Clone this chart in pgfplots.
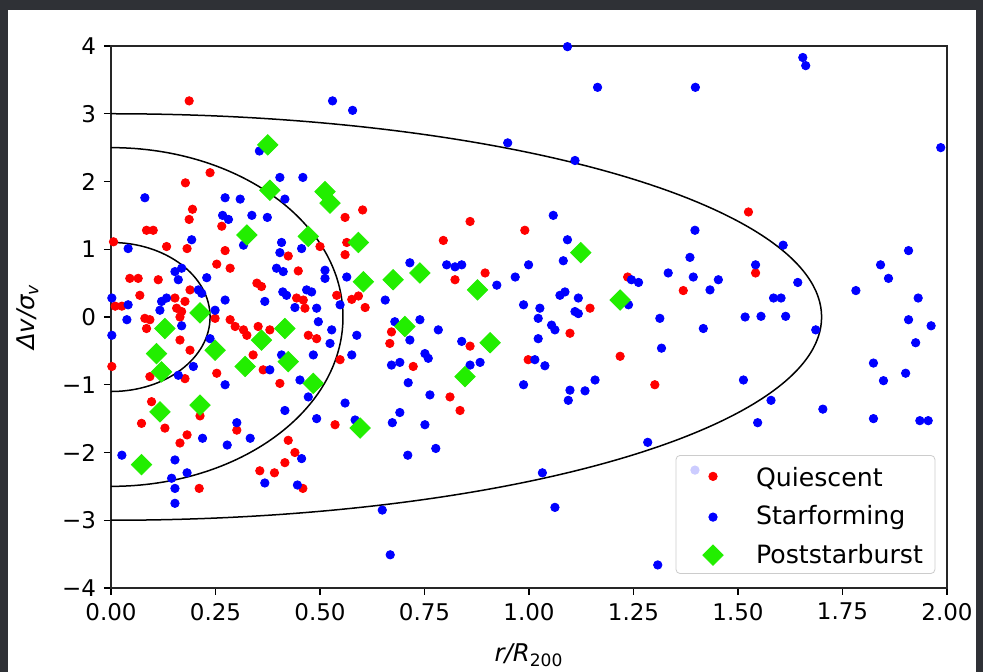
\documentclass[border=0pt]{standalone}
\usepackage{fontspec}
\setmainfont{DejaVu Sans}
\usepackage{pgfplots}
\pgfplotsset{compat=1.18}
\definecolor{framec}{HTML}{2F3136}
\definecolor{qred}{HTML}{FF0000}
\definecolor{sblue}{HTML}{0000FF}
\definecolor{pgreen}{HTML}{22EE00}
\definecolor{legedge}{HTML}{CCCCCC}
\pgfplotsset{
  ptstyle/.style={only marks,
    legend image code/.code={\path[draw=none,fill=none] (0pt,-1pt) rectangle (34pt,1pt);
      \draw[##1,fill opacity=1,draw opacity=1,overlay] plot coordinates {(14.5pt,0pt)};}},
}
\begin{document}
\fontsize{11.5}{13.5}\selectfont
\begin{tikzpicture}
\path[use as bounding box] (-55.5pt,-42pt) rectangle (436pt,294pt);
\fill[framec] (-55.5pt,-42pt) rectangle (436pt,294pt);
\fill[white] (-51.5pt,-42pt) rectangle (432.5pt,289pt);
\begin{axis}[
  at={(0pt,0pt)}, anchor=south west,
  scale only axis, width=418pt, height=271pt,
  xmin=0, xmax=2, ymin=-4, ymax=4,
  xtick={0,0.25,0.5,0.75,1,1.25,1.5,1.75,2},
  xticklabels={0.00,0.25,0.50,0.75,1.00,1.25,1.50,1.75,2.00},
  ytick={-4,-3,-2,-1,0,1,2,3,4},
  yticklabels={−4,−3,−2,−1,0,1,2,3,4},
  tick align=outside, tick pos=left,
  major tick length=3.5pt,
  every tick/.style={black, line width=0.6pt},
  axis line style={line width=0.6pt, black!85},
  xlabel={\itshape r/R\textsubscript{\upshape 200}},
  ylabel={\itshape Δv/σ\textsubscript{v}},
  label style={font=\fontsize{12.2}{14}\selectfont},
  xlabel shift=4pt, ylabel shift=4pt,
  legend cell align=left,
  legend style={at={(0.986,0.026)}, anchor=south east, draw=legedge, fill=white,
    fill opacity=0.8, draw opacity=1, text opacity=1, rounded corners=2pt,
    inner xsep=4pt, inner ysep=1.5pt, row sep=3.75pt,
    font=\fontsize{12.6}{14.5}\selectfont},
]
\addplot[ptstyle, mark=*, mark size=2.1pt, color=qred] coordinates {
(0.187,3.19) (0.237,2.13) (0.178,1.98) (0.195,1.59) (0.187,1.44) (0.560,1.47)
(0.602,1.58) (0.859,1.41) (0.990,1.28) (1.525,1.55) (0.085,1.28) (0.101,1.28)
(0.265,1.34) (0.006,1.11) (0.133,1.04) (0.182,1.01) (0.273,0.98) (0.424,0.90)
(0.253,0.78) (0.285,0.72) (0.448,0.68) (0.045,0.57) (0.065,0.57) (0.113,0.55)
(0.349,0.50) (0.360,0.45) (0.189,0.40) (0.069,0.32) (0.444,0.28) (0.460,0.25)
(0.153,0.28) (0.177,0.23) (0.010,0.16) (0.026,0.16) (0.157,0.13) (0.169,0.08)
(0.464,0.13) (0.081,-0.02) (0.093,-0.04) (0.165,0.00) (0.249,-0.02) (0.285,-0.04)
(0.297,-0.14) (0.085,-0.17) (0.317,-0.19) (0.325,-0.27) (0.352,-0.14) (0.380,-0.19)
(0.472,-0.27) (0.492,-0.32) (0.165,-0.34) (0.189,-0.49) (0.340,-0.56) (0.364,-0.78)
(0.002,-0.73) (0.093,-0.88) (0.177,-0.91) (0.253,-0.83) (0.404,-0.98) (0.097,-1.25)
(0.564,1.10) (0.560,0.92) (0.795,1.13) (0.500,1.04) (0.895,0.65) (0.823,0.55)
(0.576,0.26) (0.592,0.31) (0.608,0.14) (0.540,0.32) (0.671,-0.22) (0.667,-0.39)
(0.859,-0.43) (0.548,-0.63) (0.723,-0.73) (0.811,-1.18)
(1.236,0.59) (1.369,0.39) (1.146,0.13) (1.098,-0.24) (1.218,-0.58) (0.998,-0.63)
(1.301,-1.00) (1.542,0.65)
(0.213,-1.46) (0.073,-1.57) (0.129,-1.64) (0.165,-1.86) (0.182,-1.74) (0.301,-1.67)
(0.424,-1.82) (0.440,-2.00) (0.416,-2.15) (0.356,-2.27) (0.391,-2.30) (0.459,-2.53)
(0.211,-2.53) (0.536,-1.59) (0.835,-1.38)
};
\addlegendentry{\rule{0pt}{12.2pt}Quiescent}
\addplot[ptstyle, mark=*, mark size=2.1pt, color=sblue] coordinates {
(0.355,2.45) (0.404,2.06) (0.459,2.06) (0.081,1.76) (0.273,1.76) (0.309,1.74)
(0.416,1.74) (0.337,1.50) (0.374,1.47) (0.267,1.50) (0.281,1.44) (0.530,3.19)
(0.578,3.05) (0.949,2.57) (1.092,3.99) (1.164,3.39) (1.398,3.39) (1.110,2.31)
(1.058,1.50) (1.655,3.83) (1.662,3.71) (1.985,2.50)
(0.317,1.06) (0.041,1.01) (0.193,1.14) (0.408,1.10) (0.404,0.95) (0.456,1.01)
(0.396,0.72) (0.412,0.67) (0.153,0.67) (0.169,0.72) (0.161,0.55) (0.229,0.58)
(0.209,0.40) (0.217,0.35) (0.411,0.37) (0.420,0.32) (0.468,0.40) (0.480,0.37)
(0.133,0.28) (0.121,0.23) (0.273,0.25) (0.368,0.23) (0.002,0.28) (0.041,0.18)
(0.117,0.10) (0.249,0.10) (0.440,0.14) (0.492,0.13) (0.038,-0.04) (0.169,-0.13)
(0.002,-0.27) (0.237,-0.32) (0.408,-0.56) (0.484,-0.56) (0.380,-0.78) (0.452,-0.93)
(0.197,-0.73) (0.161,-0.86) (0.273,-1.00) (0.472,-1.18)
(0.715,0.80) (0.803,0.77) (0.823,0.74) (0.839,0.77) (0.512,0.69) (0.512,0.57)
(0.564,0.59) (0.923,0.47) (0.967,0.59) (0.999,0.77) (0.656,0.25) (0.548,0.18)
(0.987,0.18) (0.679,-0.07) (0.739,-0.04) (0.783,-0.19) (0.528,-0.19) (0.524,-0.39)
(0.496,-0.07) (0.588,-0.27) (0.715,-0.34) (0.839,-0.36) (0.576,-0.56) (0.751,-0.54)
(0.759,-0.61) (0.671,-0.71) (0.691,-0.67) (0.859,-0.71) (0.883,-0.67) (0.711,-0.97)
(0.987,-1.00) (0.763,-1.15) (0.560,-1.27)
(1.397,1.28) (1.092,1.14) (1.082,0.83) (1.385,0.88) (1.333,0.65) (1.245,0.55)
(1.262,0.51) (1.393,0.59) (1.453,0.55) (1.433,0.40) (1.074,0.32) (1.086,0.37)
(1.118,0.28) (1.238,0.18) (1.026,0.13) (1.022,-0.02) (1.110,0.08) (1.118,0.05)
(1.313,-0.02) (1.054,-0.12) (1.062,-0.19) (1.417,-0.17) (1.022,-0.32) (1.317,-0.46)
(1.014,-0.63) (1.038,-0.72) (1.158,-0.93) (1.098,-1.08) (1.134,-1.09) (1.094,-1.23)
(1.608,1.06) (1.542,0.77) (1.643,0.51) (1.585,0.28) (1.603,0.28) (1.517,0.00)
(1.555,0.01) (1.614,0.01) (1.686,-0.19) (1.513,-0.93) (1.579,-1.23) (1.908,0.98)
(1.841,0.77) (1.860,0.57) (1.782,0.39) (1.931,0.28) (1.908,-0.04) (1.962,-0.13)
(1.925,-0.38) (1.824,-0.68) (1.901,-0.83) (1.848,-0.94)
(0.219,-1.79) (0.301,-1.56) (0.333,-1.79) (0.278,-1.89) (0.416,-1.38) (0.492,-1.50)
(0.456,-2.09) (0.368,-2.45) (0.446,-2.48) (0.026,-2.04) (0.153,-2.11) (0.182,-2.30)
(0.145,-2.38) (0.153,-2.53) (0.153,-2.75)
(0.584,-1.52) (0.691,-1.41) (0.673,-1.56) (0.751,-1.59) (0.710,-2.04) (0.777,-1.94)
(0.649,-2.85) (0.668,-3.51)
(1.032,-2.30) (1.062,-2.81) (1.284,-1.85) (1.308,-3.66) (1.397,-2.26)
(1.547,-1.56) (1.703,-1.36) (1.824,-1.50) (1.935,-1.53) (1.955,-1.53)
};
\addlegendentry{Starforming}
\addplot[ptstyle, mark=square*, mark size=3.6pt, color=pgreen, mark options={rotate=45}] coordinates {
(0.375,2.54) (0.380,1.87) (0.512,1.85) (0.524,1.68) (0.325,1.21) (0.472,1.19)
(0.592,1.10) (1.124,0.95) (0.739,0.65) (0.675,0.55) (0.604,0.52) (0.877,0.40)
(1.218,0.25) (0.213,0.06) (0.129,-0.17) (0.416,-0.17) (0.703,-0.14) (0.360,-0.34)
(0.907,-0.38) (0.249,-0.49) (0.109,-0.54) (0.424,-0.66) (0.321,-0.73) (0.121,-0.81)
(0.847,-0.88) (0.484,-0.98) (0.117,-1.40) (0.213,-1.30) (0.596,-1.64) (0.073,-2.18)
};
\addlegendentry{Poststarburst}
\draw[black, line width=0.75pt] (axis cs:0,0) ellipse [x radius=0.237, y radius=1.1];
\draw[black, line width=0.75pt] (axis cs:0,0) ellipse [x radius=0.555, y radius=2.5];
\draw[black, line width=0.75pt] (axis cs:0,0) ellipse [x radius=1.70, y radius=3.0];
\end{axis}
\end{tikzpicture}
\end{document}
